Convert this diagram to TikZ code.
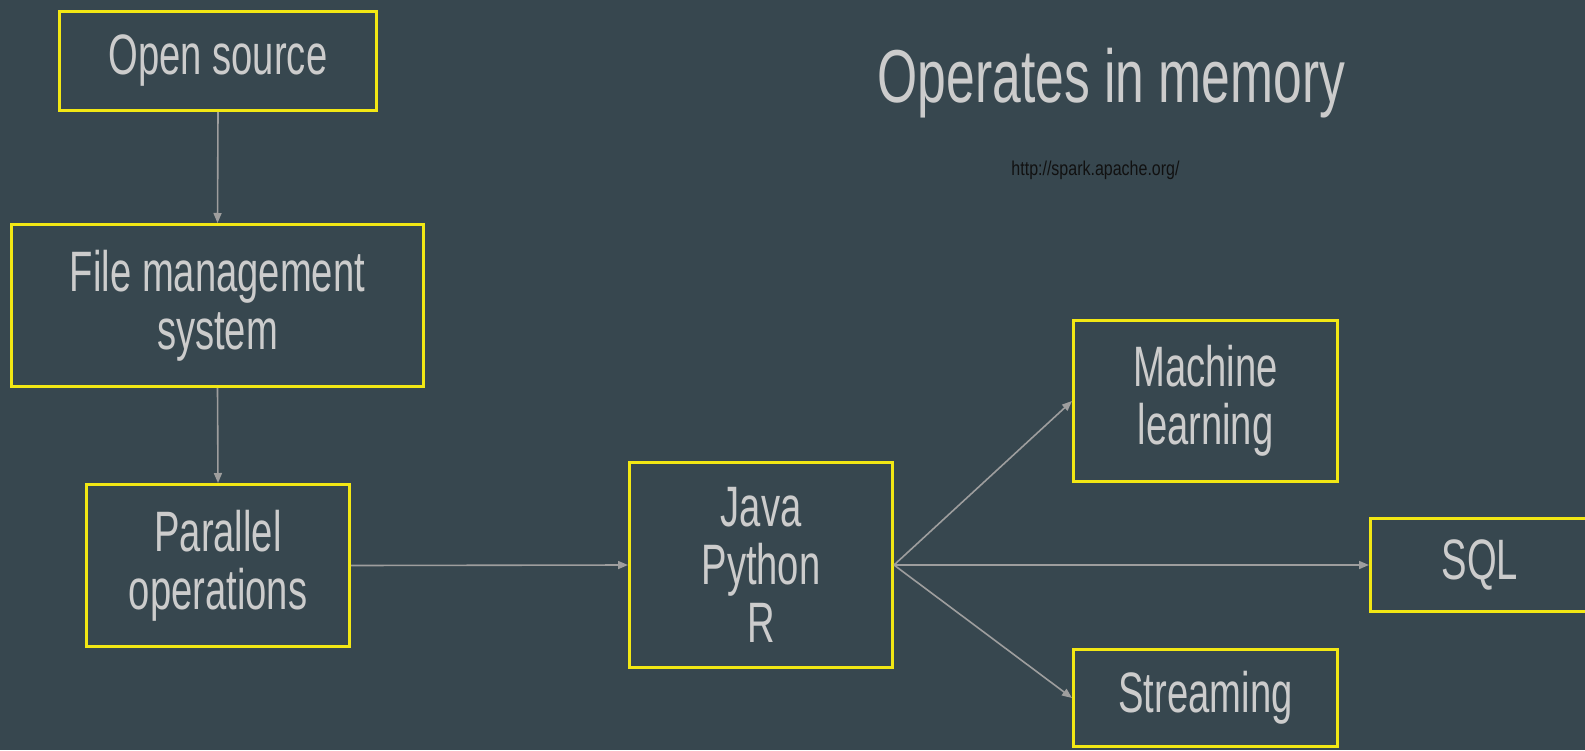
\documentclass[tikz,border=0pt]{standalone}
\usepackage{fontspec}
\setmainfont{Liberation Sans}
\newfontfamily\boxfont[FakeStretch=0.67]{Liberation Sans}
\newfontfamily\titlefont[FakeStretch=0.688]{Liberation Sans}
\newfontfamily\urlfont[FakeStretch=0.8]{Liberation Sans}
\usetikzlibrary{arrows.meta}
\definecolor{bg}{HTML}{37474F}
\definecolor{boxyellow}{HTML}{F2E714}
\definecolor{txtgray}{HTML}{CCCCCC}
\definecolor{linegray}{HTML}{9E9E9E}
\definecolor{urldark}{HTML}{111111}
\begin{document}
\begin{tikzpicture}[x=1pt,y=-1pt,
  box/.style={draw=boxyellow, line width=3pt, text=txtgray,
    font=\boxfont\fontsize{57}{58}\selectfont, align=center, inner sep=0pt},
  conn/.style={draw=linegray, line width=1.6pt,
    -{Triangle[length=10pt,width=8pt]}, shorten >=0pt}]
\fill[bg] (0,0) rectangle (1585,750);
\useasboundingbox (0,0) rectangle (1585,750);

\node[box, minimum width=317pt, minimum height=99pt] (os) at (218,61) {Open source};
\node[box, minimum width=412pt, minimum height=162pt] (fms) at (217.5,305.5) {File management\\system};
\node[box, minimum width=263pt, minimum height=162pt] (par) at (218,565.5) {Parallel\\operations};
\node[box, minimum width=263pt, minimum height=205pt] (java) at (761,565) {Java\\Python\\R};
\node[box, minimum width=264pt, minimum height=161pt] (ml) at (1205.5,401) {Machine\\learning};
\node[box, minimum width=219pt, minimum height=93pt] (sql) at (1480,565) {SQL};
\node[box, minimum width=264pt, minimum height=97pt] (str) at (1205.5,698) {Streaming};

\node[anchor=base, text=txtgray, inner sep=0pt,
  font=\titlefont\fontsize{75}{80}\selectfont] (title) at (1111.5,102) {Operates in memory};
\node[anchor=base, text=urldark, inner sep=0pt,
  font=\urlfont\fontsize{20}{22}\selectfont] (url) at (1095.5,175) {http://spark.apache.org/};

\draw[conn] (os.south) -- (fms.north);
\draw[conn] (fms.south) -- (par.north);
\draw[conn] (par.east) -- (java.west);
\draw[conn] (java.east) -- (ml.west);
\draw[conn] (java.east) -- (sql.west);
\draw[conn] (java.east) -- (str.west);
\end{tikzpicture}
\end{document}
